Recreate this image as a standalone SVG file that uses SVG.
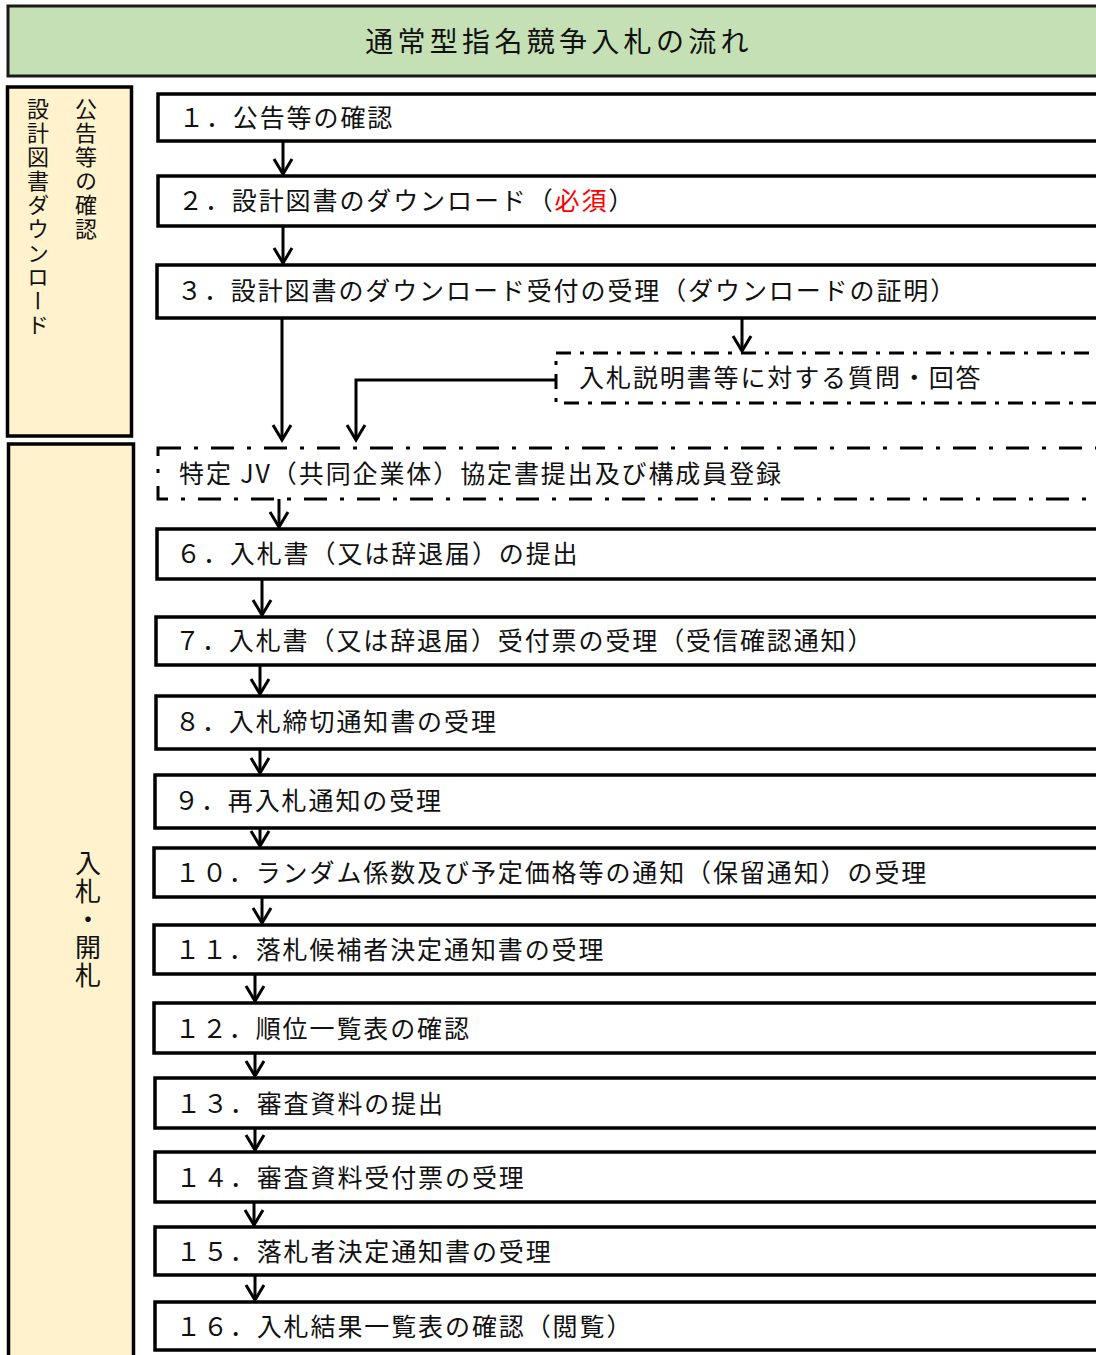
<svg xmlns="http://www.w3.org/2000/svg" width="1096" height="1355" viewBox="0 0 1096 1355">
<style>
  .t{font-family:"Noto Sans CJK JP","Noto Sans",sans-serif;font-size:25px;letter-spacing:1.9px;fill:#111}
  .box{fill:#fff;stroke:#000;stroke-width:3.5}
  .dq{fill:#fff;stroke:#000;stroke-width:3;stroke-dasharray:15 9 4 9}
  .dj{fill:#fff;stroke:#000;stroke-width:3;stroke-dasharray:23 13 4 13}
  .panel{fill:#fff2cc;stroke:#000;stroke-width:3.5}
  .v{font-family:"Noto Sans CJK JP",sans-serif;font-size:22px;letter-spacing:2px;fill:#111;writing-mode:vertical-rl}
  .c{fill:none;stroke:#000;stroke-width:3;marker-end:url(#ah)}
</style>
<defs>
  <marker id="ah" markerUnits="userSpaceOnUse" orient="auto" refX="0" refY="0" markerWidth="20" markerHeight="20" overflow="visible">
    <path d="M-15,-9 L0,0 L-15,9" fill="none" stroke="#000" stroke-width="3" stroke-linejoin="miter"/>
  </marker>
</defs>
<rect width="1096" height="1355" fill="#fff"/>
<g id="header">
  <rect x="8" y="6" width="1100" height="70" fill="#c5e0b4" stroke="#1a1a1a" stroke-width="3"/>
  <text x="559" y="52" text-anchor="middle" style="font-family:'Noto Sans CJK JP',sans-serif;font-size:28px;letter-spacing:4.3px;fill:#111">通常型指名競争入札の流れ</text>
</g>
<g id="panel-download">
  <rect class="panel" x="7.5" y="87" width="124" height="349"/>
  <text class="v" x="86" y="98">公告等の確認</text>
  <text class="v" x="38" y="98">設計図書ダウンロード</text>
</g>
<g id="panel-bid">
  <rect class="panel" x="8.5" y="444" width="125" height="930"/>
  <text class="v" x="88" y="850" style="font-size:26px;letter-spacing:2px">入札・開札</text>
</g>
<g id="n1"><rect class="box" x="158" y="94" width="960" height="47"/><text class="t" x="179" y="127">１．公告等の確認</text></g>
<g id="n2"><rect class="box" x="158" y="176" width="960" height="50"/><text class="t" x="178" y="210">２．設計図書のダウンロード（<tspan fill="#ff0000">必須</tspan>）</text></g>
<g id="n3"><rect class="box" x="157" y="265" width="960" height="53"/><text class="t" x="177" y="300">３．設計図書のダウンロード受付の受理（ダウンロードの証明）</text></g>
<g id="nq"><rect class="dq" x="556" y="353" width="560" height="50"/><text class="t" x="579" y="387">入札説明書等に対する質問・回答</text></g>
<g id="njv"><rect class="dj" x="158" y="448" width="960" height="51"/><text class="t" x="179" y="483">特定 JV（共同企業体）協定書提出及び構成員登録</text></g>
<g id="n6"><rect class="box" x="157" y="529" width="960" height="50"/><text class="t" x="176" y="563">６．入札書（又は辞退届）の提出</text></g>
<g id="n7"><rect class="box" x="156" y="617" width="960" height="48"/><text class="t" x="175" y="650">７．入札書（又は辞退届）受付票の受理（受信確認通知）</text></g>
<g id="n8"><rect class="box" x="156" y="696" width="960" height="53"/><text class="t" x="175" y="731">８．入札締切通知書の受理</text></g>
<g id="n9"><rect class="box" x="155" y="775" width="960" height="53"/><text class="t" x="174" y="810">９．再入札通知の受理</text></g>
<g id="n10"><rect class="box" x="154" y="848" width="960" height="49"/><text class="t" x="175" y="882">１０．ランダム係数及び予定価格等の通知（保留通知）の受理</text></g>
<g id="n11"><rect class="box" x="154" y="925" width="960" height="49"/><text class="t" x="175" y="959">１１．落札候補者決定通知書の受理</text></g>
<g id="n12"><rect class="box" x="154" y="1003" width="960" height="50"/><text class="t" x="175" y="1038">１２．順位一覧表の確認</text></g>
<g id="n13"><rect class="box" x="155" y="1078" width="960" height="50"/><text class="t" x="176" y="1113">１３．審査資料の提出</text></g>
<g id="n14"><rect class="box" x="155" y="1152" width="960" height="50"/><text class="t" x="176" y="1187">１４．審査資料受付票の受理</text></g>
<g id="n15"><rect class="box" x="155" y="1227" width="960" height="48"/><text class="t" x="176" y="1261">１５．落札者決定通知書の受理</text></g>
<g id="n16"><rect class="box" x="155" y="1302" width="960" height="48"/><text class="t" x="176" y="1336">１６．入札結果一覧表の確認（閲覧）</text></g>
<g id="connectors">
  <path class="c" d="M283,141 V174"/>
  <path class="c" d="M283,226 V263"/>
  <path class="c" d="M282,318 V440"/>
  <path class="c" d="M742,318 V351"/>
  <path class="c" d="M556,380 H356 V440"/>
  <path class="c" d="M279,499 V527"/>
  <path class="c" d="M262,579 V615"/>
  <path class="c" d="M260,665 V694"/>
  <path class="c" d="M260,749 V773"/>
  <path class="c" d="M260,828 V846"/>
  <path class="c" d="M262,897 V923"/>
  <path class="c" d="M255,974 V1001"/>
  <path class="c" d="M255,1053 V1076"/>
  <path class="c" d="M255,1128 V1150"/>
  <path class="c" d="M254,1202 V1225"/>
  <path class="c" d="M255,1275 V1300"/>
</g>
</svg>
